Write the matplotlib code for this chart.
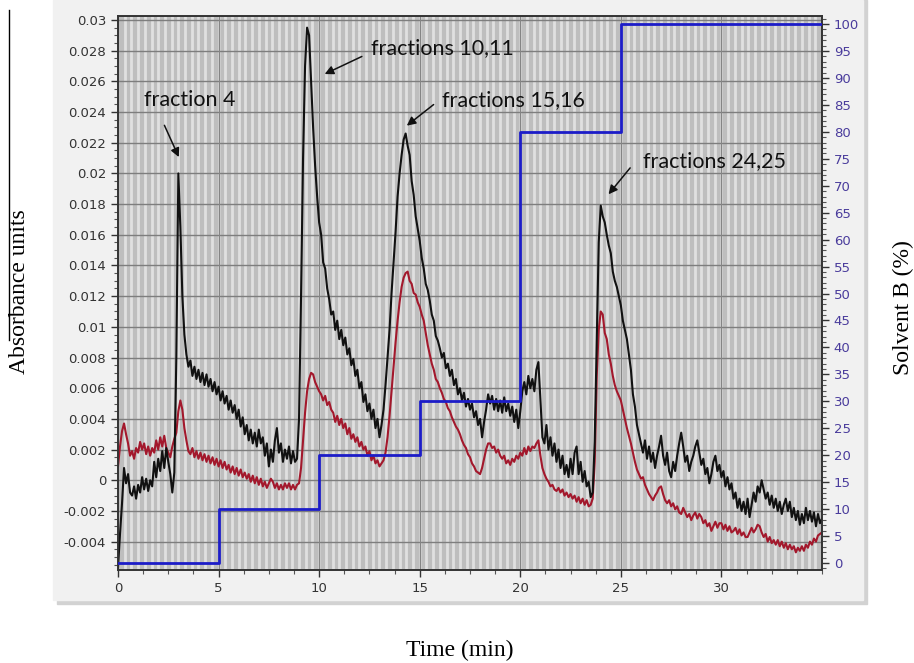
import matplotlib
matplotlib.use('Agg')
import matplotlib.pyplot as plt
import numpy as np
from matplotlib.patches import Rectangle
from matplotlib.lines import Line2D
from matplotlib.ticker import MultipleLocator

plt.rcParams['axes.unicode_minus'] = False

# sampling interval of the detector traces (min)
dt = 0.1

# absorbance, black trace (one value every 0.1 min from 0 to 35 min)
black = [
    -0.0057, -0.0035, -0.0015, 0.0008, -0.0002, 0.0004, -0.0008, -0.001, -0.0004, -0.0012,
    -0.0003, -0.0008, 0.0002, -0.0006, 0.0001, -0.0007, 0.0, -0.0004, 0.0012, 0.0002,
    0.0014, 0.0006, 0.0019, 0.0008, 0.0021, 0.0012, 0.0004, -0.0008, 0.0005, 0.008,
    0.02, 0.0165, 0.012, 0.0095, 0.0082, 0.0074, 0.0078, 0.0068, 0.0074, 0.0066,
    0.0072, 0.0064, 0.007, 0.0062, 0.0069, 0.0061, 0.0066, 0.0058, 0.0064, 0.0056,
    0.0061, 0.0052, 0.0058, 0.005, 0.0055, 0.0046, 0.0052, 0.0044, 0.0049, 0.004,
    0.0046, 0.0035, 0.0041, 0.003, 0.0036, 0.0026, 0.0033, 0.0024, 0.0031, 0.0022,
    0.0033, 0.0024, 0.0028, 0.0016, 0.0024, 0.0009, 0.002, 0.0012, 0.0026, 0.0034,
    0.0018, 0.0024, 0.0012, 0.002, 0.0014, 0.0022, 0.0011, 0.0019, 0.0012, 0.0014,
    0.004, 0.012, 0.021, 0.027, 0.0295, 0.029, 0.026, 0.023, 0.0205, 0.0185,
    0.0168, 0.016, 0.0142, 0.0138, 0.0125, 0.0118, 0.0108, 0.011, 0.0098, 0.0104,
    0.0092, 0.0098, 0.0088, 0.0093, 0.0082, 0.0086, 0.0075, 0.0079, 0.0068, 0.0072,
    0.006, 0.0064, 0.0051, 0.0056, 0.0045, 0.005, 0.004, 0.0046, 0.0034, 0.004,
    0.0028, 0.0036, 0.0046, 0.0062, 0.008, 0.0098, 0.0122, 0.0142, 0.0162, 0.0185,
    0.02, 0.0212, 0.0222, 0.0226, 0.0218, 0.0212, 0.0195, 0.0186, 0.0172, 0.0164,
    0.0156, 0.0145, 0.0138, 0.0128, 0.0124, 0.0117, 0.0108, 0.0104, 0.0094, 0.0091,
    0.0086, 0.008, 0.0083, 0.0073, 0.0076, 0.0068, 0.0072, 0.0062, 0.0066, 0.0056,
    0.006, 0.0052, 0.0057, 0.0048, 0.0053, 0.0046, 0.005, 0.0041, 0.0045, 0.0036,
    0.004, 0.0028, 0.0038, 0.0046, 0.0056, 0.005, 0.0055, 0.0046, 0.0053, 0.0045,
    0.0052, 0.0044, 0.0054, 0.0045, 0.005, 0.0042, 0.0048, 0.0038, 0.0046, 0.0034,
    0.0045, 0.0058, 0.0064, 0.0056, 0.0068, 0.006, 0.0066, 0.0058, 0.0072, 0.0077,
    0.0052, 0.0028, 0.0024, 0.0036, 0.002, 0.0028, 0.0016, 0.0024, 0.0012, 0.002,
    0.0008, 0.0016, 0.0004, 0.001, 0.0002, 0.0014, 0.0004, 0.0018, 0.0022, 0.0004,
    0.0012, -0.0001, 0.0006, -0.0004, -0.0001, -0.0011, -0.0008, 0.0025, 0.009, 0.0155,
    0.0179, 0.0172, 0.0168, 0.016, 0.0153, 0.0148, 0.0136, 0.013, 0.0126, 0.012,
    0.0114, 0.0104, 0.0098, 0.0092, 0.0082, 0.0072, 0.0056, 0.0048, 0.0036, 0.003,
    0.0024, 0.0018, 0.0026, 0.0014, 0.0022, 0.0012, 0.0018, 0.0008, 0.0016, 0.0022,
    0.0029, 0.0016, 0.001, 0.0018, 0.0006, 0.0002, 0.0012, 0.0006, 0.0016, 0.0024,
    0.0031, 0.0022, 0.0012, 0.0016, 0.0006, 0.0012, 0.0016, 0.0022, 0.0026, 0.0018,
    0.001, 0.0014, 0.0004, 0.0008, -0.0002, 0.0004, 0.0012, 0.0016, 0.0006, 0.001,
    0.0002, 0.0006, -0.0004, 0.0002, -0.0006, -0.0002, -0.0012, -0.0008, -0.0018, -0.0012,
    -0.002, -0.0014, -0.0022, -0.0012, -0.0024, -0.0016, -0.0008, -0.0014, -0.0004, -0.0008,
    0.0, -0.0006, -0.0012, -0.0008, -0.0016, -0.001, -0.0018, -0.0012, -0.002, -0.0014,
    -0.0022, -0.0016, -0.0012, -0.002, -0.0014, -0.0024, -0.0018, -0.0026, -0.002, -0.0029,
    -0.0022, -0.0028, -0.0018, -0.0026, -0.002, -0.0027, -0.0021, -0.003, -0.0022, -0.0028,
    -0.0025,
]

# absorbance, red trace (same sampling)
red = [
    0.0009, 0.0022, 0.0032, 0.0037, 0.003, 0.0024, 0.0016, 0.0019, 0.0014, 0.0021,
    0.0018, 0.0025, 0.002, 0.0024, 0.0017, 0.0022, 0.0016, 0.0021, 0.0018, 0.0026,
    0.002, 0.0028, 0.0022, 0.0029, 0.0021, 0.0018, 0.0015, 0.0022, 0.0027, 0.0031,
    0.0045, 0.0052, 0.0046, 0.0034, 0.0026, 0.0019, 0.0017, 0.0021, 0.0015, 0.0019,
    0.0014, 0.0018, 0.0013, 0.0017, 0.0012, 0.0016, 0.0011, 0.0015, 0.001, 0.0014,
    0.0009, 0.0013, 0.0008, 0.0012, 0.0007, 0.001, 0.0005, 0.0009, 0.0004, 0.0008,
    0.0003, 0.0007, 0.0002, 0.0005, 0.0001, 0.0004, -0.0001, 0.0003, -0.0002, 0.0002,
    -0.0003, 0.0001, -0.0004, -0.0001, -0.0005, -0.0002, 0.0001, -0.0001, -0.0005, -0.0002,
    -0.0006, -0.0003, -0.0006, -0.0002, -0.0005, -0.0002, -0.0006, -0.0003, -0.0006, -0.0003,
    -0.0002, 0.0008, 0.0026, 0.0044, 0.0058, 0.0066, 0.007, 0.0069, 0.0064, 0.0061,
    0.0058, 0.0056, 0.0052, 0.0055, 0.0049, 0.0051, 0.0046, 0.0044, 0.0038, 0.0042,
    0.0036, 0.004, 0.0034, 0.0037, 0.003, 0.0034, 0.0027, 0.003, 0.0025, 0.0028,
    0.0022, 0.0025, 0.002, 0.0022, 0.0016, 0.0019, 0.0013, 0.0016, 0.0011, 0.0013,
    0.0009, 0.0011, 0.0013, 0.0018, 0.0028, 0.0042, 0.0058, 0.0074, 0.009, 0.0104,
    0.0116, 0.0126, 0.0132, 0.0135, 0.0136, 0.013, 0.0128, 0.0122, 0.0121, 0.0116,
    0.0113, 0.0108, 0.0104, 0.0096, 0.0088, 0.0082, 0.0076, 0.0072, 0.0066, 0.0064,
    0.006, 0.0057, 0.0053, 0.0051, 0.0047, 0.0045, 0.0041, 0.0038, 0.0035, 0.0033,
    0.003, 0.0026, 0.0023, 0.0021, 0.0017, 0.0015, 0.0011, 0.0009, 0.0006, 0.0005,
    0.0004, 0.0008, 0.0014, 0.002, 0.0024, 0.0024, 0.0021, 0.0022, 0.0018, 0.002,
    0.0016, 0.0014, 0.0016, 0.0011, 0.0013, 0.001, 0.0014, 0.0012, 0.0016, 0.0014,
    0.0018, 0.0016, 0.0021, 0.0017, 0.0022, 0.0019, 0.0022, 0.0021, 0.0024, 0.0026,
    0.0016, 0.0008, 0.0004, 0.0001, -0.0001, -0.0004, -0.0003, -0.0006, -0.0007, -0.0005,
    -0.0008, -0.0006, -0.001, -0.0008, -0.0011, -0.0009, -0.0012, -0.001, -0.0014, -0.0011,
    -0.0015, -0.0012, -0.0016, -0.0013, -0.0017, -0.0016, -0.0012, 0.0012, 0.0068, 0.0098,
    0.011, 0.0108, 0.0096, 0.0092, 0.0082, 0.0076, 0.0068, 0.0062, 0.0058, 0.0055,
    0.0052, 0.0046, 0.004, 0.0034, 0.0029, 0.0024, 0.0018, 0.0012, 0.0007, 0.0004,
    0.0001, 0.0002, -0.0003, -0.0006, -0.0009, -0.0011, -0.0013, -0.001, -0.0008, -0.0005,
    -0.0004, -0.0009, -0.0013, -0.0015, -0.0013, -0.0017, -0.0015, -0.0019, -0.0017, -0.0021,
    -0.0022, -0.0018, -0.0021, -0.0024, -0.0022, -0.0026, -0.0023, -0.0021, -0.0025, -0.0022,
    -0.0024, -0.0028, -0.0026, -0.003, -0.0028, -0.0033, -0.003, -0.0027, -0.0031, -0.0028,
    -0.0028, -0.0032, -0.0029, -0.0033, -0.003, -0.0034, -0.0033, -0.0031, -0.0035, -0.0032,
    -0.0036, -0.0034, -0.0037, -0.0037, -0.0034, -0.0031, -0.0034, -0.0032, -0.0029, -0.003,
    -0.0034, -0.0037, -0.0035, -0.004, -0.0037, -0.0041, -0.0039, -0.0042, -0.0039, -0.0043,
    -0.004, -0.0044, -0.0041, -0.0045, -0.0042, -0.0045, -0.0043, -0.0047, -0.0044, -0.0046,
    -0.0043, -0.0046, -0.0042, -0.0044, -0.004, -0.0042, -0.0038, -0.004, -0.0036, -0.0035,
    -0.0034,
]

# solvent B gradient program
grad_time = [0, 5, 10, 15, 20, 25, 35]
grad_b = [0, 10, 20, 30, 80, 100, 100]

# peak labels: text, text position, arrow tail, arrow head
labels = ['fraction 4', 'fractions 10,11', 'fractions 15,16', 'fractions 24,25']
label_xy = [(1.3, 0.0248), (12.6, 0.0282), (16.1, 0.0248), (26.1, 0.0208)]
arrow_tail = [(2.25, 0.0233), (12.25, 0.0277), (15.8, 0.0246), (25.55, 0.0205)]
arrow_head = [(3.08, 0.0209), (10.15, 0.0264), (14.25, 0.0230), (24.3, 0.0185)]

abs_ticks = [-0.004, -0.002, 0, 0.002, 0.004, 0.006, 0.008, 0.01, 0.012, 0.014,
             0.016, 0.018, 0.02, 0.022, 0.024, 0.026, 0.028, 0.03]
time_ticks = [0, 5, 10, 15, 20, 25, 30]
b_ticks = list(range(0, 101, 5))

t = np.arange(len(black)) * dt

fig = plt.figure(figsize=(9.14, 6.63), dpi=100)

# the grey software panel behind the plot, with a soft shadow
W, H = 914.0, 663.0
fig.patches.append(Rectangle((57 / W, 1 - 604 / H), 810 / W, 604 / H, transform=fig.transFigure,
                             color='#d2d2d2', zorder=-3))
fig.patches.append(Rectangle((53 / W, 1 - 600 / H), 810 / W, 600 / H, transform=fig.transFigure,
                             color='#f1f1f1', zorder=-2))
fig.lines.append(Line2D([9 / W, 9 / W], [1 - 10 / H, 1 - 340 / H], transform=fig.transFigure,
                        color='black', lw=1))

ax = fig.add_axes([118 / W, 1 - 570 / H, 704 / W, 554 / H])
ax.set_facecolor('#bebebe')
ax.set_xlim(0, 35)
ax.set_ylim(-0.00585, 0.03026)

# light vertical stripes and darker grid
for x in np.arange(1 / 3, 35, 1 / 3):
    ax.axvline(x, color='#e0e0e0', lw=2, zorder=0)
for y in abs_ticks:
    ax.axhline(y, color='#7e7e7e', lw=1, zorder=0.5)
for x in time_ticks[1:]:
    ax.axvline(x, color='#858585', lw=1, zorder=0.5)

ax.plot(t, red, color='#a3182c', lw=1.5, zorder=2)
ax.plot(t, black, color='#111111', lw=1.5, zorder=3)

ax.set_yticks(abs_ticks)
ax.set_yticklabels([f'{v:g}' for v in abs_ticks])
ax.yaxis.set_minor_locator(MultipleLocator(0.0005))
ax.set_xticks(time_ticks)
ax.xaxis.set_minor_locator(MultipleLocator(1.25))
ax.tick_params(axis='both', which='major', labelsize=9.5, colors='#333333', length=5, width=1)
ax.tick_params(axis='both', which='minor', length=3, width=0.8, colors='#555555')
for s in ax.spines.values():
    s.set_color('#333333')
    s.set_linewidth(1.2)

ax2 = ax.twinx()
ax2.set_ylim(-1.3, 101.5)
ax2.plot(grad_time, grad_b, drawstyle='steps-post', color='#1c1cc8', lw=2, zorder=4)
ax2.set_yticks(b_ticks)
ax2.yaxis.set_minor_locator(MultipleLocator(1))
ax2.tick_params(axis='y', which='major', labelsize=9.5, colors='#333333', labelcolor='#4a3c9c',
                length=5, width=1)
ax2.tick_params(axis='y', which='minor', length=3, width=0.8, colors='#555555')
for s in ax2.spines.values():
    s.set_color('#333333')
    s.set_linewidth(1.2)

for txt, pos, tail, head in zip(labels, label_xy, arrow_tail, arrow_head):
    ax.text(pos[0], pos[1], txt, fontsize=15.5, family='Lato', color='#111111',
            va='center', ha='left', zorder=6)
    ax.annotate('', xy=head, xytext=tail,
                arrowprops=dict(arrowstyle='-|>', color='#111111', lw=1.1, mutation_scale=13),
                zorder=6)

serif = 'Liberation Serif'
fig.text(20 / W, 1 - 292 / H, 'Absorbance units', rotation=90, ha='center', va='center',
         fontsize=17, family=serif)
fig.text(903 / W, 1 - 308 / H, 'Solvent B (%)', rotation=90, ha='center', va='center',
         fontsize=17, family=serif)
fig.text(460 / W, 1 - 650 / H, 'Time (min)', ha='center', va='center', fontsize=17, family=serif)

fig.savefig('out.png', dpi=100)
